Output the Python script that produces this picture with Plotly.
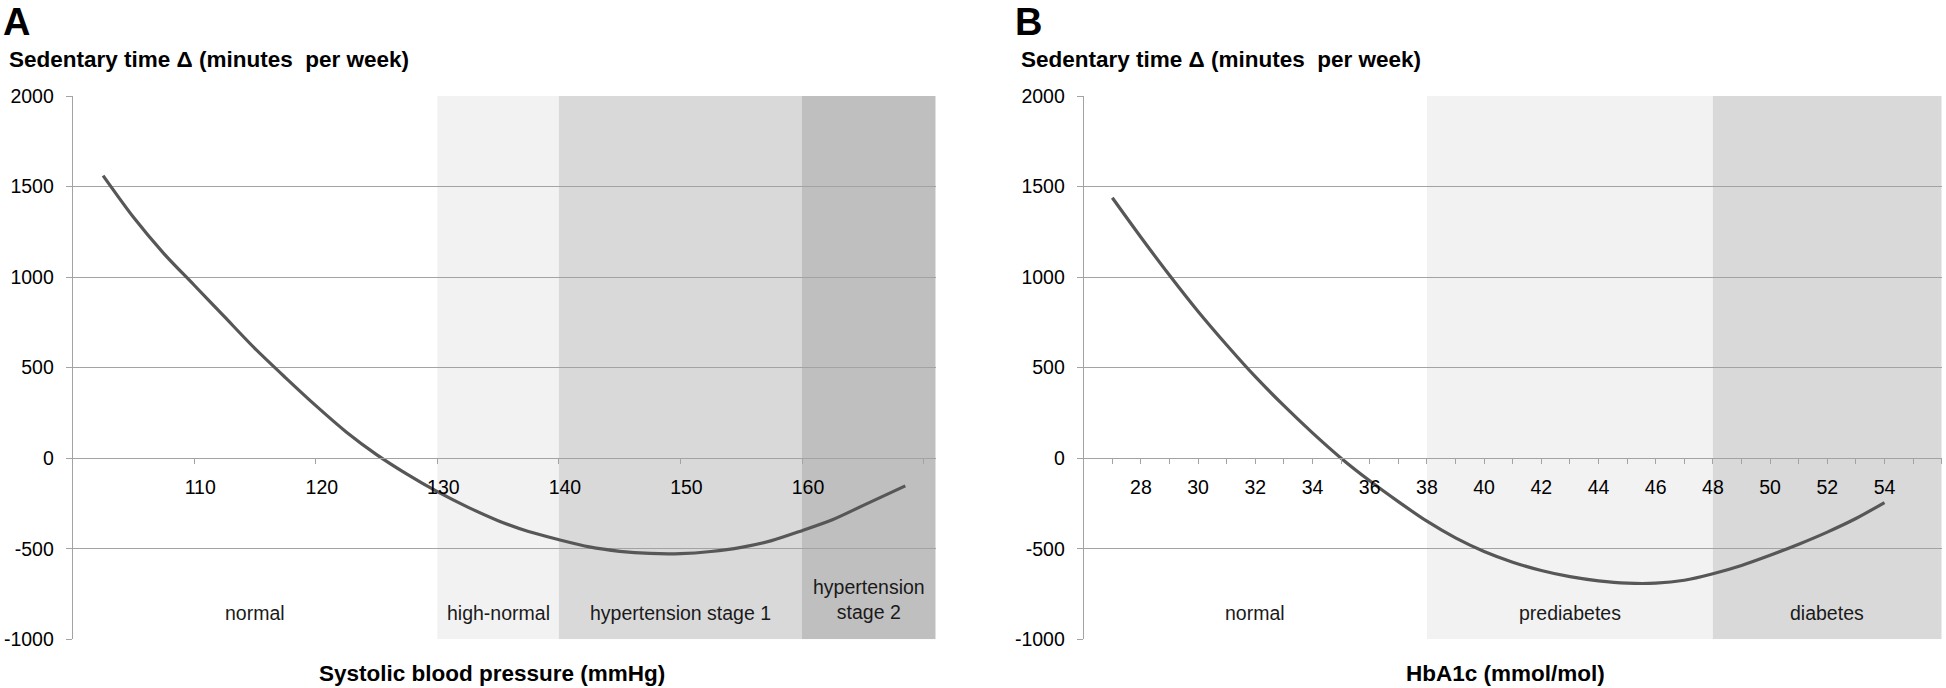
import plotly.graph_objects as go

W, H = 1946, 688
FONT = "Liberation Sans, Arial, sans-serif"

# ---------------- data ----------------
# Panel A: systolic blood pressure (mmHg) vs sedentary time change
bp_x = [102.5, 105, 107.5, 110, 112.5, 115, 117.5, 120, 122.5, 125, 127.5, 130,
        132.5, 135, 137.5, 140, 142.5, 145, 147.5, 150, 152.5, 155, 157.5, 160,
        162.5, 165, 168.5]
bp_y = [1560, 1330, 1130, 955, 780, 605, 445, 290, 145, 20, -88, -185,
        -270, -345, -405, -450, -490, -514, -526, -527, -515, -492, -455, -400,
        -340, -262, -153]
bp_zone_names = ["normal", "high-normal", "hypertension stage 1", "hypertension<br>stage 2"]
bp_zone_start = [100, 130, 140, 160]
bp_zone_end = [130, 140, 160, 171]
bp_ticks = [110, 120, 130, 140, 150, 160, 170]
bp_ticktext = ["110", "120", "130", "140", "150", "160", ""]

# Panel B: HbA1c (mmol/mol) vs sedentary time change
hb_x = list(range(27, 55))
hb_y = [1438, 1220, 1010, 810, 625, 450, 290, 140, 0, -125,
        -240, -348, -440, -515, -574, -620, -654, -677, -690, -690,
        -674, -638, -592, -536, -475, -408, -333, -245]
hb_zone_names = ["normal", "prediabetes", "diabetes"]
hb_zone_start = [26, 38, 48]
hb_zone_end = [38, 48, 56]
hb_ticks = list(range(27, 57))
hb_ticktext = [str(v) if (v % 2 == 0 and v < 56) else "" for v in hb_ticks]

y_ticks = [-1000, -500, 0, 500, 1000, 1500, 2000]
y_ticktext = ["-1000", "-500", "0", "500", "1000", "1500", "2000"]
zone_fill = ["rgba(0,0,0,0)", "#f2f2f2", "#d9d9d9", "#bfbfbf"]

# ---------------- layout geometry (page pixels) ----------------
yA_top, yA_bot = 96.0, 639.3
xA_l, xA_r = 72.7, 935.7
xB_l, xB_r = 1083.7, 1941.7


def fx(p):
    return p / W


def fy(p):
    return 1 - p / H


ydom = [fy(yA_bot), fy(yA_top)]
y_zero_pos = ydom[0] + (1000 / 3000) * (ydom[1] - ydom[0])

GRID = "#a3a3a3"
LINE = "#575757"

fig = go.Figure()
fig.add_trace(go.Scatter(x=bp_x, y=bp_y, mode="lines",
                         line=dict(color=LINE, width=3.2, shape="spline", smoothing=0.8),
                         xaxis="x", yaxis="y", showlegend=False, hoverinfo="skip"))
fig.add_trace(go.Scatter(x=hb_x, y=hb_y, mode="lines",
                         line=dict(color=LINE, width=3.2, shape="spline", smoothing=0.8),
                         xaxis="x2", yaxis="y2", showlegend=False, hoverinfo="skip"))

shapes = []
annotations = []
label_y = -853

for i, (nm, a, b) in enumerate(zip(bp_zone_names, bp_zone_start, bp_zone_end)):
    if i > 0:
        shapes.append(dict(type="rect", xref="x", yref="y", x0=a, x1=b, y0=-1000, y1=2000,
                           fillcolor=zone_fill[i], line=dict(width=0), layer="below"))
    two = "<br>" in nm
    annotations.append(dict(xref="x", yref="y", x=(a + b) / 2, y=label_y + (72 if two else 0),
                            text=nm, showarrow=False, xanchor="center", yanchor="middle",
                            font=dict(family=FONT, size=19.5, color="#1a1a1a")))

for i, (nm, a, b) in enumerate(zip(hb_zone_names, hb_zone_start, hb_zone_end)):
    if i > 0:
        shapes.append(dict(type="rect", xref="x2", yref="y2", x0=a, x1=b, y0=-1000, y1=2000,
                           fillcolor=zone_fill[i], line=dict(width=0), layer="below"))
    annotations.append(dict(xref="x2", yref="y2", x=(a + b) / 2, y=label_y,
                            text=nm, showarrow=False, xanchor="center", yanchor="middle",
                            font=dict(family=FONT, size=19.5, color="#1a1a1a")))


def ann_px(text, x_px, y_px, size, bold=True, xanchor="left"):
    return dict(xref="paper", yref="paper", x=fx(x_px), y=fy(y_px),
                text=f"<b>{text}</b>" if bold else text, showarrow=False,
                xanchor=xanchor, yanchor="middle",
                font=dict(family=FONT, size=size, color="#000000"))


ytitle = "Sedentary time \u0394 (minutes\u00a0 per week)"
annotations += [
    ann_px("A", 1, 22, 38),
    ann_px("B", 1013, 22, 38),
    ann_px(ytitle, 7, 59, 22.5),
    ann_px(ytitle, 1019, 59, 22.5),
    ann_px("Systolic blood pressure (mmHg)", 492, 673, 22.5, xanchor="center"),
    ann_px("HbA1c (mmol/mol)", 1505, 673, 22.5, xanchor="center"),
]

yaxis_common = dict(range=[-1000, 2000], tickmode="array", tickvals=y_ticks, ticktext=y_ticktext,
                    showgrid=True, gridcolor=GRID,
                    gridwidth=1, zeroline=False, showline=True, linecolor=GRID, linewidth=1,
                    ticks="outside", ticklen=6, tickcolor=GRID, domain=ydom,
                    tickfont=dict(family=FONT, size=19.5, color="#000000"),
                    ticklabelstandoff=8, automargin=False)
xaxis_common = dict(showgrid=False, zeroline=False, showline=True, linecolor=GRID, linewidth=1,
                    ticks="outside", ticklen=5, tickcolor=GRID, anchor="free",
                    position=y_zero_pos, tickmode="array",
                    tickfont=dict(family=FONT, size=19.5, color="#000000"),
                    ticklabelstandoff=6, automargin=False)

fig.update_layout(
    width=W, height=H,
    margin=dict(l=0, r=0, t=0, b=0, autoexpand=False),
    paper_bgcolor="white", plot_bgcolor="white",
    xaxis=dict(xaxis_common, domain=[fx(xA_l), fx(xA_r)], range=[100, 171],
               tickvals=bp_ticks, ticktext=bp_ticktext, ticklabelshift=6),
    yaxis=dict(yaxis_common, anchor="x"),
    xaxis2=dict(xaxis_common, domain=[fx(xB_l), fx(xB_r)], range=[26, 56],
                tickvals=hb_ticks, ticktext=hb_ticktext),
    yaxis2=dict(yaxis_common, anchor="x2"),
    shapes=shapes,
    annotations=annotations,
)

fig.write_html(
    "out.html",
    config={"displayModeBar": False},
    post_script="document.body.style.margin='0px';document.body.style.overflow='hidden';",
)
